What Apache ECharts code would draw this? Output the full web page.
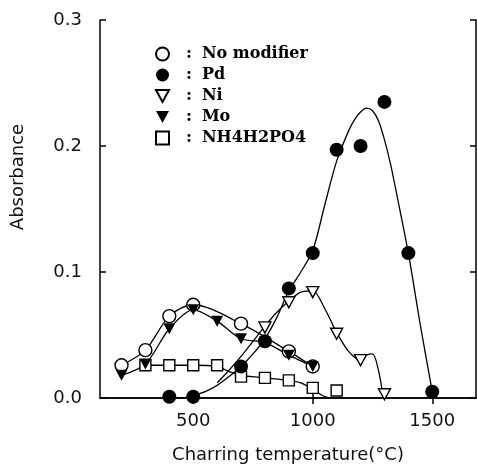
<!DOCTYPE html>
<html lang="en">
<head>
    <meta charset="UTF-8">
    <title>Absorbance vs charring temperature</title>
    <style>
        *{ padding:0; margin:0; }
        body{ background:#fff; }
    </style>
    <script type="text/javascript" src="https://cdn.jsdelivr.net/npm/echarts/dist/echarts.min.js"></script>
</head>
<body>
    <div id="main" style="width:477px;height:474px;"></div>
    <script type="text/javascript">
    // measured points
    var noModT = [200, 300, 400, 500, 700, 900, 1000];
    var noModV = [0.026, 0.038, 0.065, 0.074, 0.059, 0.037, 0.025];

    var pdT = [400, 500, 700, 800, 900, 1000, 1100, 1200, 1300, 1400, 1500];
    var pdV = [0.001, 0.001, 0.025, 0.045, 0.087, 0.115, 0.197, 0.200, 0.235, 0.115, 0.005];

    var niT = [800, 900, 1000, 1100, 1200, 1300];
    var niV = [0.056, 0.076, 0.084, 0.051, 0.030, 0.003];

    var moT = [200, 300, 400, 500, 600, 700, 800, 900, 1000];
    var moV = [0.018, 0.027, 0.055, 0.070, 0.061, 0.047, 0.044, 0.034, 0.025];

    var nhT = [300, 400, 500, 600, 700, 800, 900, 1000, 1100];
    var nhV = [0.026, 0.026, 0.026, 0.026, 0.017, 0.016, 0.014, 0.008, 0.006];

    // fitted curves
    var pdFitT = [400, 450, 500, 550, 600, 650, 700, 750, 800, 850, 900, 950, 1000, 1050, 1100, 1150, 1175, 1200, 1225, 1250, 1275, 1300, 1325, 1350, 1400, 1450, 1500];
    var pdFitV = [0.0, 0.0, 0.002, 0.005, 0.01, 0.017, 0.025, 0.035, 0.047, 0.064, 0.085, 0.100, 0.117, 0.153, 0.188, 0.212, 0.221, 0.227, 0.230, 0.228, 0.220, 0.205, 0.186, 0.163, 0.115, 0.058, 0.005];

    var niFitT = [600, 650, 700, 750, 800, 850, 900, 950, 1000, 1050, 1100, 1150, 1200, 1225, 1250, 1275, 1295];
    var niFitV = [0.012, 0.022, 0.033, 0.045, 0.057, 0.068, 0.077, 0.084, 0.085, 0.071, 0.052, 0.037, 0.030, 0.034, 0.035, 0.022, 0.0];

    var nhFitT = [300, 400, 500, 600, 650, 700, 800, 900, 950, 1000, 1040, 1070];
    var nhFitV = [0.026, 0.026, 0.026, 0.025, 0.021, 0.018, 0.016, 0.014, 0.012, 0.007, 0.002, 0.0];

    var xTicks = [500, 1000, 1500];
    var legendNames = ['No modifier', 'Pd', 'Ni', 'Mo', 'NH4H2PO4'];

    function pairs(t, v) {
        return t.map(function(x, i) { return [x, v[i]]; });
    }

    var triDown = 'path://M0,0L12,0L6,11Z';
    var lineStyle = { color: '#000', width: 1.3 };

    function curve(name, t, v) {
        return {
            name: name,
            type: 'line',
            data: pairs(t, v),
            smooth: 0.3,
            showSymbol: false,
            symbol: 'none',
            lineStyle: lineStyle,
            z: 2,
            silent: true
        };
    }

    function points(name, t, v, symbol, size, filled) {
        return {
            name: name,
            type: 'scatter',
            data: pairs(t, v),
            symbol: symbol,
            symbolSize: size,
            itemStyle: {
                color: filled ? '#000' : '#fff',
                borderColor: '#000',
                borderWidth: filled ? 0 : 1.4,
                opacity: 1
            },
            z: 3
        };
    }

    var myChart = echarts.init(document.getElementById('main'));

    var option = {
        animation: false,
        backgroundColor: '#fff',
        grid: { left: 100, right: 1, top: 20, bottom: 76 },
        legend: {
            data: legendNames,
            orient: 'vertical',
            left: 155,
            top: 46,
            itemWidth: 13,
            itemHeight: 13,
            itemGap: 5,
            padding: 0,
            formatter: function(name) {
                return '{c|:}{n|' + name + '}';
            },
            textStyle: {
                rich: {
                    c: { fontFamily: 'DejaVu Serif', fontWeight: 'bold', fontSize: 16, color: '#000', padding: [0, 10, 0, 12] },
                    n: { fontFamily: 'DejaVu Serif', fontWeight: 'bold', fontSize: 16, color: '#000' }
                }
            }
        },
        xAxis: [{
            type: 'value',
            min: 110,
            max: 1683,
            name: 'Charring temperature(°C)',
            nameLocation: 'middle',
            nameGap: 48,
            nameTextStyle: { fontFamily: 'DejaVu Sans', fontSize: 18, color: '#111' },
            axisLine: { lineStyle: { color: '#000', width: 1.5 } },
            axisTick: { inside: true, length: 6, customValues: xTicks, lineStyle: { color: '#000', width: 1.5 } },
            axisLabel: {
                customValues: xTicks,
                margin: 14,
                fontFamily: 'DejaVu Sans',
                fontSize: 18,
                color: '#111',
                formatter: function(v) { return String(v); }
            },
            splitLine: { show: false }
        }, {
            type: 'value',
            position: 'top',
            min: 110,
            max: 1683,
            axisLine: { show: true, lineStyle: { color: '#000', width: 1.5 } },
            axisTick: { show: true, inside: true, length: 6, customValues: xTicks, lineStyle: { color: '#000', width: 1.5 } },
            axisLabel: { show: false },
            splitLine: { show: false }
        }],
        yAxis: [{
            type: 'value',
            min: 0,
            max: 0.3,
            interval: 0.1,
            name: 'Absorbance',
            nameLocation: 'middle',
            nameGap: 73,
            nameTextStyle: { fontFamily: 'DejaVu Sans', fontSize: 18, color: '#111', padding: [0, 0, 0, 64] },
            axisLine: { show: true, lineStyle: { color: '#000', width: 1.5 } },
            axisTick: { inside: true, length: 6, lineStyle: { color: '#000', width: 1.5 } },
            axisLabel: {
                margin: 18,
                fontFamily: 'DejaVu Sans',
                fontSize: 18,
                color: '#111',
                formatter: function(v) { return v.toFixed(1); }
            },
            splitLine: { show: false }
        }, {
            type: 'value',
            position: 'right',
            min: 0,
            max: 0.3,
            interval: 0.1,
            axisLine: { show: true, lineStyle: { color: '#000', width: 1.5 } },
            axisTick: { show: true, inside: true, length: 6, lineStyle: { color: '#000', width: 1.5 } },
            axisLabel: { show: false },
            splitLine: { show: false }
        }],
        series: [
            curve('No modifier curve', noModT, noModV),
            curve('Mo curve', moT, moV),
            curve('Pd curve', pdFitT, pdFitV),
            curve('Ni curve', niFitT, niFitV),
            curve('NH4H2PO4 curve', nhFitT, nhFitV),
            points('NH4H2PO4', nhT, nhV, 'rect', 11, false),
            points('No modifier', noModT, noModV, 'circle', 13, false),
            points('Ni', niT, niV, triDown, [12, 11], false),
            points('Mo', moT, moV, triDown, [12, 11], true),
            points('Pd', pdT, pdV, 'circle', 14, true)
        ]
    };

    myChart.setOption(option);
    </script>
</body>
</html>
